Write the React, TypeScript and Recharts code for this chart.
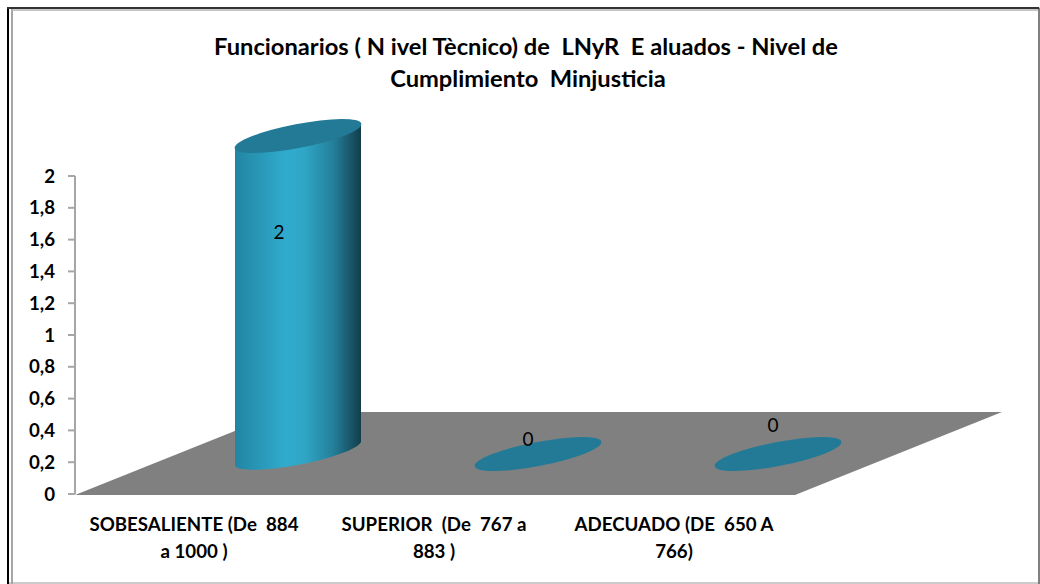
import { BarChart, Bar, XAxis, YAxis, LabelList, usePlotArea } from 'recharts';

const categories = [
  'SOBESALIENTE (De  884\na 1000 )',
  'SUPERIOR  (De  767 a\n883 )',
  'ADECUADO (DE  650 A\n766)',
];
const values = [2, 0, 0];
const yTicks = [0, 0.2, 0.4, 0.6, 0.8, 1, 1.2, 1.4, 1.6, 1.8, 2];
const titleLines = [
  'Funcionarios ( N ivel Tècnico) de  LNyR  E aluados - Nivel de',
  'Cumplimiento  Minjusticia',
];

const chartData = categories.map((name, i) => ({ name, value: values[i] }));

const FONT = 'Lato, Carlito, sans-serif';
// 3D look: the bars sit on a floor pushed back from the axes
const DEPTH_X = 103;
const DEPTH_Y = 40;
const FLOOR_BACK_X = 207;
const FLOOR_BACK_Y = 83;
const RX = 64.5;
const RY = 12;
const TILT = -11;
const EDGE_Y = 12;
// where Excel left each data label, relative to the top of its column
const labelNudge = [
  { dx: -19, dy: 95 },
  { dx: -10, dy: -16 },
  { dx: -5, dy: -30 },
];

function Frame() {
  return (
    <g>
      <rect x={8} y={8} width={1031} height={575} fill="none" stroke="#bbbbbb" strokeWidth={1.5} />
      <line x1={1039} y1={8} x2={1039} y2={584} stroke="#808080" strokeWidth={2} />
      <line x1={8} y1={7} x2={8} y2={584} stroke="#000" strokeWidth={2} />
      <line x1={12} y1={9} x2={12} y2={584} stroke="#a6a6a6" strokeWidth={2} />
      <line x1={7} y1={8} x2={1039} y2={8} stroke="#333" strokeWidth={2} />
      <line x1={12} y1={10} x2={1038} y2={10} stroke="#b5b5b5" strokeWidth={1.5} />
    </g>
  );
}

function Title() {
  return (
    <text
      textAnchor="middle"
      fontFamily={FONT}
      fontWeight={700}
      fontSize={23.7}
      fill="#000"
      style={{ whiteSpace: 'pre' }}
    >
      <tspan x={526} y={55}>{titleLines[0]}</tspan>
      <tspan x={528} y={87}>{titleLines[1]}</tspan>
    </text>
  );
}

function Floor() {
  const plot = usePlotArea();
  if (!plot) return null;
  const left = plot.x;
  const right = plot.x + plot.width;
  const bottom = plot.y + plot.height + 1;
  const top = bottom - FLOOR_BACK_Y;
  const pts = [
    [left, bottom],
    [right, bottom],
    [right + FLOOR_BACK_X, top],
    [left + FLOOR_BACK_X, top],
  ];
  return <polygon points={pts.map((p) => p.join(',')).join(' ')} fill="#808080" />;
}

function Cylinder(props: any) {
  const { x, y, width, height } = props;
  const cx = x + width / 2 + DEPTH_X;
  const topY = y - DEPTH_Y;
  const botY = y + height - DEPTH_Y;
  const xl = cx - 63;
  const xr = cx + 63;
  const arc = `A${RX} ${RY} ${TILT} 0 0`;
  return (
    <g>
      {height > 0 && (
        <path
          d={`M${xl} ${topY + EDGE_Y} L${xl} ${botY + EDGE_Y} ${arc} ${xr} ${botY - EDGE_Y} L${xr} ${topY - EDGE_Y} ${arc} ${xl} ${topY + EDGE_Y} Z`}
          fill="url(#cylinderFill)"
        />
      )}
      <ellipse
        cx={cx}
        cy={topY}
        rx={RX}
        ry={RY}
        transform={`rotate(${TILT} ${cx} ${topY})`}
        fill="#237a96"
      />
    </g>
  );
}

function DataLabel(props: any) {
  const { x, y, width, value, index } = props;
  const n = labelNudge[index];
  return (
    <text
      x={x + width / 2 + DEPTH_X + n.dx}
      y={y - DEPTH_Y + n.dy}
      textAnchor="middle"
      dominantBaseline="central"
      fontFamily={FONT}
      fontSize={19}
      fill="#000"
    >
      {value}
    </text>
  );
}

function CategoryTick(props: any) {
  const { x, payload } = props;
  const lines = String(payload.value).split('\n');
  return (
    <text
      textAnchor="middle"
      fontFamily={FONT}
      fontWeight={700}
      fontSize={18.7}
      fill="#000"
      style={{ whiteSpace: 'pre' }}
    >
      {lines.map((line, i) => (
        <tspan key={i} x={x - 1} y={531 + i * 27}>
          {line}
        </tspan>
      ))}
    </text>
  );
}

export default function App() {
  return (
    <div style={{ position: 'absolute', left: 0, top: 0 }}>
      <BarChart
        width={1040}
        height={584}
        data={chartData}
        margin={{ top: 176, right: 245, bottom: 0, left: 0 }}
        barCategoryGap="0%"
      >
        <defs>
          <linearGradient id="cylinderFill" x1="0" y1="0" x2="1" y2="0">
            <stop offset="0%" stopColor="#2285a3" />
            <stop offset="40%" stopColor="#30abcd" />
            <stop offset="55%" stopColor="#2fa6c6" />
            <stop offset="78%" stopColor="#247f9a" />
            <stop offset="100%" stopColor="#123e4b" />
          </linearGradient>
        </defs>
        <Frame />
        <Title />
        <Floor />
        <XAxis
          dataKey="name"
          interval={0}
          height={90}
          axisLine={false}
          tickLine={false}
          tick={<CategoryTick />}
        />
        <YAxis
          type="number"
          domain={[0, 2]}
          ticks={yTicks}
          width={75}
          interval={0}
          axisLine={{ stroke: '#a6a6a6', strokeWidth: 2 }}
          tickLine={{ stroke: '#a6a6a6', strokeWidth: 2 }}
          tickSize={7}
          tickMargin={13}
          tickFormatter={(v: number) => String(v).replace('.', ',')}
          tick={{ fontFamily: FONT, fontWeight: 700, fontSize: 18.7, fill: '#000' }}
        />
        <Bar dataKey="value" shape={<Cylinder />} isAnimationActive={false}>
          <LabelList dataKey="value" content={<DataLabel />} />
        </Bar>
      </BarChart>
    </div>
  );
}
